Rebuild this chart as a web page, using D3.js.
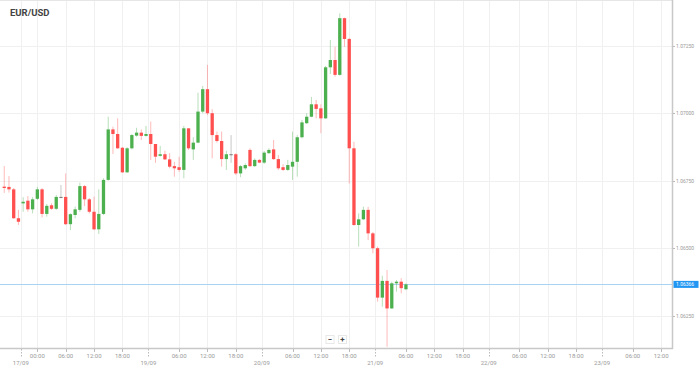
<!DOCTYPE html>
<html>
<head>
<meta charset="utf-8">
<script src="https://cdn.jsdelivr.net/npm/d3@7"></script>
<style>
  body { margin: 0; background: #fff; }
  svg { display: block; font-family: Roboto, "Open Sans", sans-serif; }
</style>
</head>
<body>
<div id="chart"></div>
<script>
// hourly EUR/USD candles, first one at 17/09 17:00 (hour -7 from 18/09 00:00)
var firstHour = -7;

var opens = [1.06728,1.06727,1.06718,1.06611,1.06666,1.06676,1.06644,1.06683,1.06718,1.06627,
  1.06659,1.06646,1.06690,1.06690,1.06589,1.06623,1.06642,1.06730,1.06681,1.06635,
  1.06570,1.06627,1.06753,1.06940,1.06923,1.06872,1.06781,1.06870,1.06917,1.06928,
  1.06916,1.06923,1.06886,1.06842,1.06848,1.06829,1.06804,1.06800,1.06790,1.06944,
  1.06866,1.06891,1.07006,1.07089,1.07000,1.06919,1.06897,1.06830,1.06848,1.06848,
  1.06777,1.06796,1.06864,1.06804,1.06827,1.06817,1.06852,1.06866,1.06830,1.06800,
  1.06790,1.06802,1.06820,1.06911,1.06963,1.06987,1.07033,1.07018,1.06981,1.07170,
  1.07197,1.07142,1.07352,1.07275,1.06870,1.06586,1.06607,1.06642,1.06555,1.06500,
  1.06317,1.06379,1.06277,1.06370,1.06376,1.06348];

var highs = [1.06804,1.06767,1.06723,1.06642,1.06689,1.06693,1.06689,1.06727,1.06723,1.06664,
  1.06666,1.06697,1.06734,1.06777,1.06629,1.06654,1.06743,1.06734,1.06686,1.06691,
  1.06718,1.06759,1.06987,1.06950,1.06981,1.06875,1.06874,1.06923,1.06946,1.06940,
  1.06953,1.06969,1.06886,1.06879,1.06861,1.06852,1.06820,1.06839,1.06953,1.06944,
  1.06911,1.07076,1.07101,1.07179,1.07015,1.06932,1.06932,1.06861,1.06919,1.06852,
  1.06808,1.06814,1.06870,1.06833,1.06830,1.06860,1.06870,1.06901,1.06845,1.06811,
  1.06827,1.06932,1.06919,1.06975,1.07000,1.07060,1.07049,1.07033,1.07175,1.07271,
  1.07246,1.07370,1.07354,1.07279,1.06894,1.06629,1.06654,1.06653,1.06560,1.06506,
  1.06398,1.06419,1.06376,1.06382,1.06389,1.06370];

var lows = [1.06705,1.06706,1.06609,1.06586,1.06635,1.06635,1.06629,1.06679,1.06614,1.06617,
  1.06642,1.06642,1.06685,1.06586,1.06567,1.06611,1.06635,1.06656,1.06629,1.06567,
  1.06553,1.06623,1.06750,1.06849,1.06868,1.06779,1.06779,1.06866,1.06913,1.06901,
  1.06913,1.06827,1.06816,1.06839,1.06827,1.06796,1.06765,1.06783,1.06759,1.06864,
  1.06827,1.06889,1.07000,1.06993,1.06833,1.06891,1.06802,1.06790,1.06816,1.06771,
  1.06763,1.06790,1.06801,1.06801,1.06815,1.06812,1.06849,1.06827,1.06790,1.06786,
  1.06786,1.06753,1.06765,1.06907,1.06960,1.06985,1.06981,1.06926,1.06979,1.07145,
  1.07135,1.07139,1.07246,1.06740,1.06583,1.06506,1.06605,1.06530,1.06481,1.06302,
  1.06283,1.06135,1.06275,1.06339,1.06333,1.06345];

var closes = [1.06723,1.06718,1.06611,1.06598,1.06672,1.06644,1.06681,1.06718,1.06627,1.06657,
  1.06646,1.06690,1.06690,1.06589,1.06626,1.06644,1.06730,1.06681,1.06635,1.06570,
  1.06627,1.06753,1.06940,1.06923,1.06870,1.06781,1.06870,1.06919,1.06928,1.06916,
  1.06923,1.06886,1.06839,1.06848,1.06829,1.06802,1.06796,1.06790,1.06944,1.06870,
  1.06891,1.07006,1.07089,1.07000,1.06919,1.06897,1.06830,1.06848,1.06848,1.06777,
  1.06804,1.06808,1.06804,1.06827,1.06817,1.06854,1.06864,1.06830,1.06796,1.06790,
  1.06808,1.06820,1.06911,1.06966,1.06987,1.07033,1.07016,1.06981,1.07170,1.07197,
  1.07142,1.07352,1.07275,1.06870,1.06586,1.06607,1.06642,1.06555,1.06500,1.06317,
  1.06379,1.06277,1.06370,1.06376,1.06352,1.06366];

// x axis, in hours from 18/09 00:00
var timeTicks = [0,6,12,18,30,36,42,54,60,66,78,84,90,102,108,114,126,132];
var timeLabels = ['00:00','06:00','12:00','18:00','06:00','12:00','18:00','06:00','12:00','18:00',
  '06:00','12:00','18:00','06:00','12:00','18:00','06:00','12:00'];
var dayTicks = [-3.5,23.5,47.5,71.5,95.5,119.5];
var dayLabels = ['17/09','19/09','20/09','21/09','22/09','23/09'];

var priceTicks = [1.0625,1.065,1.0675,1.07,1.0725];
var lastPrice = 1.06366;

var width = 699, height = 368;
var plotRight = 672, plotBottom = 348;

var svg = d3.select('#chart').append('svg')
  .attr('width', width)
  .attr('height', height);

var x = d3.scaleLinear().domain([-7.9, 134.3]).range([0, plotRight]);
var y = d3.scaleLinear().domain([1.061304, 1.074193]).range([plotBottom, 0]);

var candles = d3.range(opens.length).map(function(i){
  return {h: firstHour + i, o: opens[i], hi: highs[i], lo: lows[i], c: closes[i]};
});

// grid
var grid = svg.append('g');
grid.selectAll('.vg')
  .data(timeTicks.concat(dayTicks))
  .enter().append('line')
  .attr('x1', function(d){ return Math.round(x(d)) + 0.5; })
  .attr('x2', function(d){ return Math.round(x(d)) + 0.5; })
  .attr('y1', 0).attr('y2', plotBottom)
  .attr('stroke', '#f0f0f0');
grid.selectAll('.hg')
  .data(priceTicks)
  .enter().append('line')
  .attr('x1', 0).attr('x2', plotRight)
  .attr('y1', function(d){ return Math.round(y(d)) + 0.5; })
  .attr('y2', function(d){ return Math.round(y(d)) + 0.5; })
  .attr('stroke', '#f0f0f0');

svg.append('line')
  .attr('x1', 0).attr('x2', plotRight)
  .attr('y1', 0.5).attr('y2', 0.5)
  .attr('stroke', '#e6e6e6');

// current price line
svg.append('line')
  .attr('x1', 0).attr('x2', plotRight)
  .attr('y1', Math.round(y(lastPrice)) + 0.5)
  .attr('y2', Math.round(y(lastPrice)) + 0.5)
  .attr('stroke', '#a9d3f5');

// candles
function colour(d){
  if (d.c > d.o) return '#4cb04f';
  if (d.c < d.o) return '#ff4f4f';
  return '#777';
}
var bw = 3.3;
var g = svg.append('g').selectAll('g')
  .data(candles)
  .enter().append('g');
g.append('line')
  .attr('x1', function(d){ return x(d.h); })
  .attr('x2', function(d){ return x(d.h); })
  .attr('y1', function(d){ return y(d.hi); })
  .attr('y2', function(d){ return y(d.lo); })
  .attr('stroke', colour)
  .attr('stroke-opacity', 0.4)
  .attr('stroke-width', 1);
g.append('rect')
  .attr('x', function(d){ return x(d.h) - bw / 2; })
  .attr('width', bw)
  .attr('y', function(d){ return y(Math.max(d.o, d.c)); })
  .attr('height', function(d){ return Math.max(1, Math.abs(y(d.o) - y(d.c))); })
  .attr('fill', colour);

// axes lines
svg.append('line')
  .attr('x1', 0).attr('x2', plotRight + 1)
  .attr('y1', plotBottom + 0.5).attr('y2', plotBottom + 0.5)
  .attr('stroke', '#c8c8c8').attr('stroke-width', 1.5);
svg.append('line')
  .attr('x1', plotRight + 0.5).attr('x2', plotRight + 0.5)
  .attr('y1', 0).attr('y2', plotBottom + 1)
  .attr('stroke', '#c8c8c8').attr('stroke-width', 1.5);

// x ticks and labels
var xa = svg.append('g').attr('fill', '#9a9a9a').style('font-size', '6px');
xa.selectAll('.tt')
  .data(timeTicks)
  .enter().append('line')
  .attr('x1', function(d){ return Math.round(x(d)) + 0.5; })
  .attr('x2', function(d){ return Math.round(x(d)) + 0.5; })
  .attr('y1', plotBottom + 1).attr('y2', plotBottom + 4)
  .attr('stroke', '#bbb');
xa.selectAll('.dt')
  .data(dayTicks)
  .enter().append('line')
  .attr('x1', function(d){ return Math.round(x(d)) + 0.5; })
  .attr('x2', function(d){ return Math.round(x(d)) + 0.5; })
  .attr('y1', plotBottom + 1).attr('y2', plotBottom + 9)
  .attr('stroke', '#bbb')
  .attr('stroke-dasharray', '1.5,1.5');
xa.selectAll('.tl')
  .data(timeTicks)
  .enter().append('text')
  .attr('x', function(d){ return x(d); })
  .attr('y', plotBottom + 10)
  .attr('text-anchor', 'middle')
  .text(function(d, i){ return timeLabels[i]; });
xa.selectAll('.dl')
  .data(dayTicks)
  .enter().append('text')
  .attr('x', function(d){ return x(d); })
  .attr('y', plotBottom + 17)
  .attr('text-anchor', 'middle')
  .text(function(d, i){ return dayLabels[i]; });

// y ticks and labels
var ya = svg.append('g').style('font-size', '5px').attr('fill', '#9a9a9a');
ya.selectAll('line')
  .data(priceTicks)
  .enter().append('line')
  .attr('x1', plotRight + 1).attr('x2', plotRight + 3)
  .attr('y1', function(d){ return Math.round(y(d)) + 0.5; })
  .attr('y2', function(d){ return Math.round(y(d)) + 0.5; })
  .attr('stroke', '#bbb');
ya.selectAll('text')
  .data(priceTicks)
  .enter().append('text')
  .attr('x', plotRight + 4)
  .attr('y', function(d){ return y(d) + 1.8; })
  .text(function(d){ return d3.format('.5f')(d); });

// current price tag
svg.append('rect')
  .attr('x', plotRight + 1.5).attr('y', y(lastPrice) - 3.5)
  .attr('width', 25).attr('height', 7)
  .attr('fill', '#2196f3');
svg.append('text')
  .attr('x', plotRight + 4).attr('y', y(lastPrice) + 1.8)
  .attr('fill', '#fff').style('font-size', '5px')
  .text(d3.format('.5f')(lastPrice));

// zoom buttons
var zb = svg.append('g');
[['\u2212', 330], ['+', 342.5]].forEach(function(b){
  zb.append('rect')
    .attr('x', b[1] - 4).attr('y', 335.5)
    .attr('width', 8).attr('height', 8)
    .attr('fill', '#fff').attr('stroke', '#e8e8e8');
  zb.append('text')
    .attr('x', b[1]).attr('y', 342)
    .attr('text-anchor', 'middle')
    .attr('fill', '#444')
    .style('font-size', '8px').style('font-weight', 'bold')
    .text(b[0]);
});

// title
svg.append('text')
  .attr('x', 10).attr('y', 15.5)
  .attr('fill', '#444')
  .style('font-size', '9.5px')
  .style('font-weight', 'bold')
  .text('EUR/USD');
</script>
</body>
</html>
